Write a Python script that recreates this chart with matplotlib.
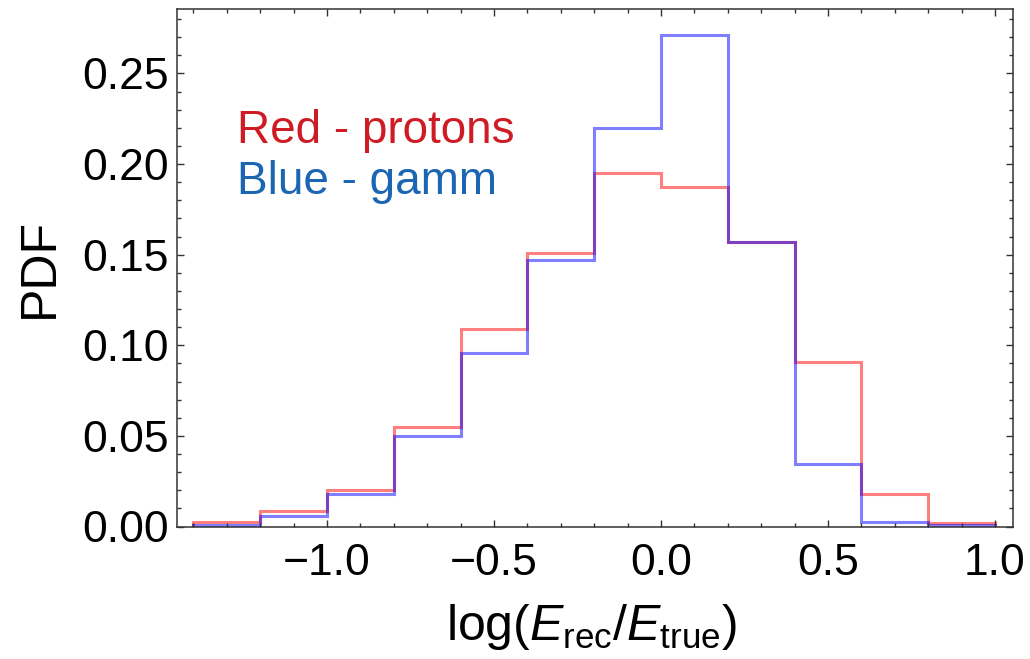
import numpy as np
import matplotlib
matplotlib.use("Agg")
import matplotlib.pyplot as plt
from matplotlib.ticker import MultipleLocator, FuncFormatter

# bin edges and heights
edges = [-1.4, -1.2, -1.0, -0.8, -0.6, -0.4, -0.2, 0.0, 0.2, 0.4, 0.6, 0.8, 1.0]
protons = [0.0025, 0.0085, 0.020, 0.055, 0.109, 0.151, 0.195, 0.1875, 0.157, 0.0905, 0.018, 0.002]
gammas = [0.001, 0.0057, 0.018, 0.0497, 0.096, 0.147, 0.220, 0.271, 0.157, 0.0343, 0.0023, 0.0008]

plt.rcParams['font.family'] = ['Liberation Sans', 'DejaVu Sans']
plt.rcParams['mathtext.fontset'] = 'custom'
plt.rcParams['mathtext.rm'] = 'Liberation Sans'
plt.rcParams['mathtext.it'] = 'Liberation Sans:italic'

fig = plt.figure(figsize=(10.3, 6.59), dpi=100)
ax = fig.add_axes([177/1030, 1 - 526.5/659, (1013-177)/1030, (526.5-9.3)/659])

ax.stairs(protons, edges, color=(1, 0, 0, 0.5), linewidth=2.2)
ax.stairs(gammas, edges, color=(0, 0, 1, 0.5), linewidth=2.2)

ax.set_xlim(-1.449, 1.054)
ax.set_ylim(0, 0.2854)

def fmt(nd):
    def f(v, pos):
        s = '%.*f' % (nd, abs(v))
        if v < -1e-9:
            s = '\u2212' + s
        return s
    return FuncFormatter(f)

ax.xaxis.set_major_locator(MultipleLocator(0.5))
ax.xaxis.set_minor_locator(MultipleLocator(0.1))
ax.yaxis.set_major_locator(MultipleLocator(0.05))
ax.yaxis.set_minor_locator(MultipleLocator(0.01))
ax.xaxis.set_major_formatter(fmt(1))
ax.yaxis.set_major_formatter(fmt(2))

ax.tick_params(which='both', direction='in', top=True, right=True, width=1.0, color='#333333')
ax.tick_params(which='major', length=5, labelsize=32)
ax.tick_params(axis='x', which='major', pad=12)
ax.tick_params(axis='y', which='major', pad=6)
ax.tick_params(which='minor', length=3)
for s in ax.spines.values():
    s.set_linewidth(1.1)
    s.set_color('#333333')

ax.set_ylabel('PDF', fontsize=36)
ax.yaxis.set_label_coords(-0.137, 0.5)
ax.set_xlabel(r'log($E_{\mathrm{rec}}$/$E_{\mathrm{true}}$)', fontsize=36)
ax.xaxis.label.set_va('baseline')
ax.xaxis.set_label_coords(0.496, -0.22)

ax.text(0.072, 0.7415, 'Red - protons', transform=ax.transAxes, fontsize=33, color='#CF1C24')
ax.text(0.072, 0.643, 'Blue - gamm', transform=ax.transAxes, fontsize=33, color='#1A66B3')

fig.savefig('out.png', dpi=100)
